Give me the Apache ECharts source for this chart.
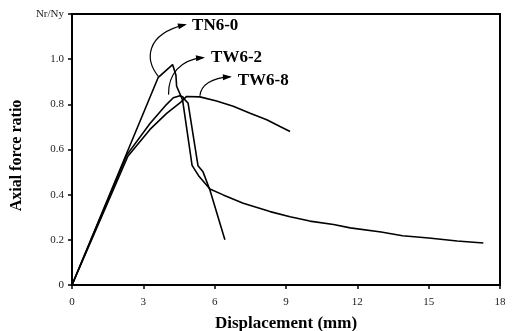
<!DOCTYPE html>
<html><head><meta charset="utf-8">
<script src="https://cdn.jsdelivr.net/npm/echarts@6/dist/echarts.min.js"></script>
<style>html,body{margin:0;padding:0;background:#fff}#c{width:518px;height:331px}</style>
</head><body><div id="c"></div>
<script>
// Axis ticks
const xTicks = [0, 3, 6, 9, 12, 15, 18];
const yTickLabels = ['0', '0.2', '0.4', '0.6', '0.8', '1.0', 'Nr/Ny'];
const seriesNames = ['TN6-0', 'TW6-2', 'TW6-8'];
// Series data [displacement mm, axial force ratio]
const tn60 = [[0,0],[3.62,0.918],[4.23,0.976],[4.37,0.93],[4.40,0.88],[4.65,0.82],[5.05,0.53],[5.35,0.48],[5.80,0.425],[6.36,0.399],[7.20,0.362],[8.33,0.325],[9.17,0.302],[10.0,0.283],[11.0,0.268],[11.7,0.253],[13.0,0.235],[13.9,0.218],[15.0,0.208],[16.2,0.195],[17.3,0.186]];
const tw62 = [[0,0],[2.30,0.575],[3.28,0.715],[3.98,0.80],[4.26,0.829],[4.54,0.838],[4.67,0.832],[4.75,0.82],[4.88,0.806],[5.30,0.528],[5.51,0.501],[5.80,0.421],[6.43,0.20]];
const tw68 = [[0,0],[2.35,0.57],[3.28,0.689],[3.98,0.76],[4.54,0.806],[4.82,0.835],[5.38,0.833],[6.08,0.815],[6.78,0.792],[7.49,0.761],[8.19,0.732],[8.75,0.702],[9.17,0.68]];
// Annotation arrows (cubic bezier control points in data coords) and label anchors
const arrowTN60 = [[3.63,0.924],[3.07,0.998],[3.07,1.109],[4.75,1.153]];
const arrowTW62 = [[4.06,0.843],[4.04,0.931],[4.54,0.998],[5.51,1.007]];
const arrowTW68 = [[5.38,0.838],[5.42,0.887],[5.89,0.918],[6.64,0.922]];
const labelPos = [[5.05,1.149],[5.85,1.007],[6.97,0.905]];

const serif = 'Liberation Serif';
const chart = echarts.init(document.getElementById('c'), null, {renderer: 'canvas'});
const lineSeries = [tn60, tw62, tw68].map((d, i) => ({
  name: seriesNames[i], type: 'line', data: d, showSymbol: false, smooth: false,
  lineStyle: {color: '#000', width: 1.6}, z: 3
}));
chart.setOption({
  animation: false,
  backgroundColor: '#fff',
  grid: {left: 72, right: 18, top: 14, bottom: 46, show: true, borderColor: '#000', borderWidth: 2,
    containLabel: false, outerBoundsMode: 'none'},
  xAxis: {
    type: 'value', min: 0, max: 18, interval: 3,
    name: 'Displacement (mm)', nameLocation: 'middle', nameGap: 30,
    nameTextStyle: {fontFamily: serif, fontWeight: 'bold', fontSize: 17, color: '#000'},
    axisLine: {show: true, lineStyle: {color: '#000', width: 2}},
    axisTick: {show: true, inside: false, length: 4, lineStyle: {color: '#000', width: 1.5}},
    axisLabel: {fontFamily: serif, fontSize: 11, color: '#222', margin: 12,
      formatter: v => String(xTicks.find(t => t === v) ?? v)},
    splitLine: {show: false}
  },
  yAxis: {
    type: 'value', min: 0, max: 1.2, interval: 0.2,
    name: 'Axial force ratio', nameLocation: 'middle', nameGap: 33, nameRotate: 90,
    nameTextStyle: {fontFamily: serif, fontWeight: 'bold', fontSize: 16, color: '#000', padding: [0, 12, 0, 0]},
    axisLine: {show: true, lineStyle: {color: '#000', width: 2}},
    axisTick: {show: true, inside: false, length: 4, lineStyle: {color: '#000', width: 1.5}},
    axisLabel: {fontFamily: serif, fontSize: 11, color: '#222', margin: 8,
      formatter: v => yTickLabels[Math.round(v / 0.2)]},
    splitLine: {show: false}
  },
  series: lineSeries
});

function toPx(p) { return chart.convertToPixel({gridIndex: 0}, p); }
const graphics = [];
[arrowTN60, arrowTW62, arrowTW68].forEach((a, i) => {
  const P = a.map(toPx);
  graphics.push({
    type: 'bezierCurve', z: 10,
    shape: {x1: P[0][0], y1: P[0][1], cpx1: P[1][0], cpy1: P[1][1], cpx2: P[2][0], cpy2: P[2][1], x2: P[3][0], y2: P[3][1]},
    style: {stroke: '#000', lineWidth: 1.2, fill: null}
  });
  const dx = P[3][0] - P[2][0], dy = P[3][1] - P[2][1];
  const L = Math.hypot(dx, dy), ux = dx / L, uy = dy / L;
  const len = 7, hw = 3;
  const tip = P[3];
  const bx = tip[0] - ux * len, by = tip[1] - uy * len;
  graphics.push({
    type: 'polygon', z: 10,
    shape: {points: [[tip[0] + ux * 2, tip[1] + uy * 2], [bx - uy * hw, by + ux * hw], [bx + uy * hw, by - ux * hw]]},
    style: {fill: '#000'}
  });
  const lp = toPx(labelPos[i]);
  graphics.push({
    type: 'text', z: 10, x: lp[0], y: lp[1],
    style: {text: seriesNames[i], fontFamily: serif, fontWeight: 'bold', fontSize: 17, fill: '#000', align: 'left', verticalAlign: 'middle'}
  });
});
chart.setOption({graphic: graphics});
</script>
</body></html>
